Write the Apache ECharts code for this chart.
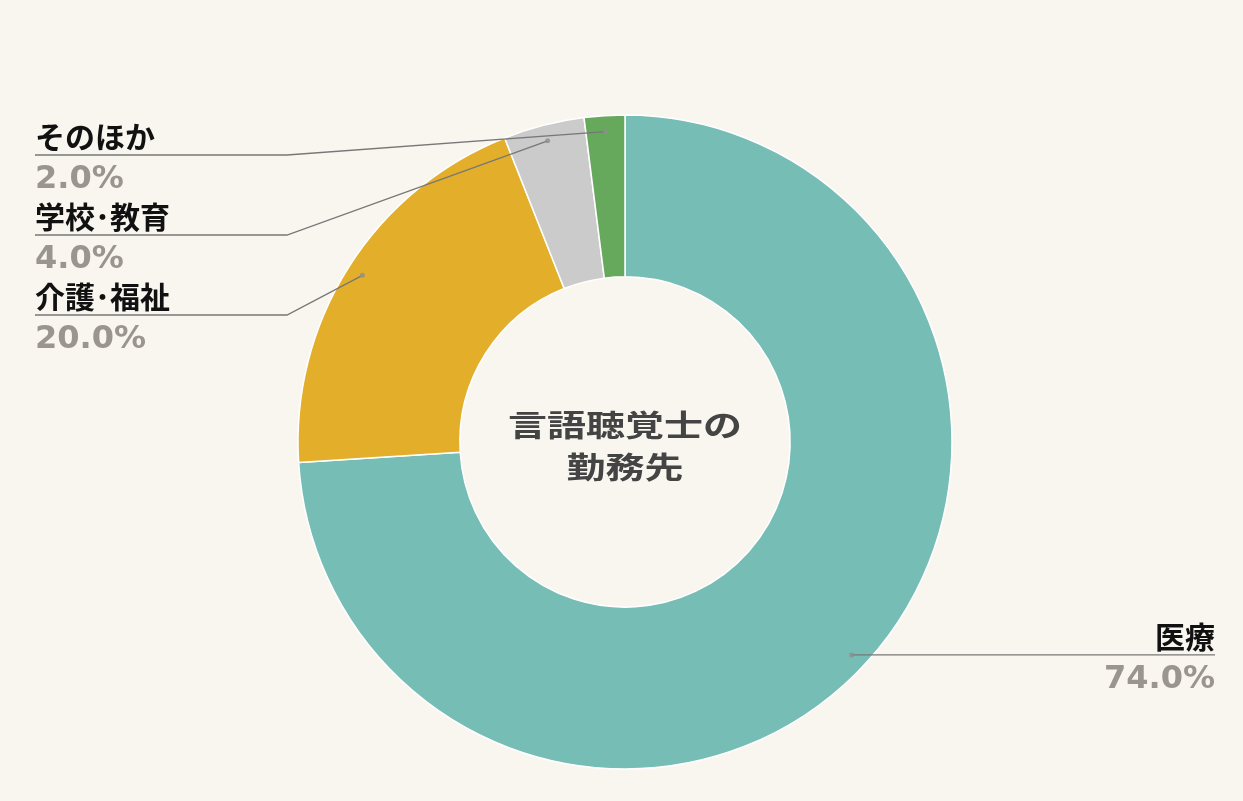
<!DOCTYPE html>
<html>
<head>
<meta charset="utf-8">
<script src="https://cdn.jsdelivr.net/npm/echarts@6/dist/echarts.min.js"></script>
<style>
  html, body { margin: 0; padding: 0; background: #f9f6f0; }
  #main { width: 1243px; height: 801px; }
</style>
</head>
<body>
<div id="main"></div>
<script>
var names = ['医療', '介護･福祉', '学校･教育', 'そのほか'];
var values = [74, 20, 4, 2];
var colors = ['#76bdb6', '#e3af2a', '#cbcbcb', '#66a85c'];
var centerTitle = '言語聴覚士の\n勤務先';

var myChart = echarts.init(document.getElementById('main'));

// pie box inside the canvas
var boxLeft = 7, boxTop = 115, boxRight = 0, boxBottom = 32;
var W = 1243, H = 801;
var edge = 28, labelH = 80;
var cx = boxLeft + (W - boxLeft - boxRight) / 2;
var cy = boxTop + (H - boxTop - boxBottom) / 2;
var outerR = (H - boxTop - boxBottom) / 2;
var dotR = outerR - 16;

var pieData = names.map(function (n, i) {
  return { name: n, value: values[i], itemStyle: { color: colors[i] } };
});

// mid angle of each slice (share of the circle, clockwise from top)
var total = values.reduce(function (a, b) { return a + b; }, 0);
var acc = 0;
var mids = values.map(function (v) {
  var mid = (acc + v / 2) / total;
  acc += v;
  return mid;
});
var dots = mids.map(function (m) { return [dotR, m * 100]; });

// label anchors: start at the dot, stack labels downward so they don't collide
var anchors = mids.map(function (m) {
  var a = m * Math.PI * 2;
  return { px: cx + Math.sin(a) * dotR, py: cy - Math.cos(a) * dotR, left: Math.sin(a) < 0 };
});
[true, false].forEach(function (side) {
  var idx = anchors.map(function (a, i) { return i; })
    .filter(function (i) { return anchors[i].left === side; })
    .sort(function (i, j) { return anchors[i].py - anchors[j].py; });
  var minY = boxTop + labelH / 2;
  idx.forEach(function (i) {
    anchors[i].ly = Math.max(anchors[i].py, minY);
    minY = anchors[i].ly + labelH;
  });
});

var option = {
  backgroundColor: '#f9f6f0',
  graphic: [{
    type: 'text',
    x: cx,
    y: cy + 4,
    scaleX: 1.3,
    z: 10,
    style: {
      text: centerTitle,
      fontFamily: 'Noto Sans CJK JP',
      fontSize: 30,
      fontWeight: 'bold',
      fill: '#444444',
      lineHeight: 42,
      align: 'center',
      verticalAlign: 'middle'
    }
  }],
  polar: {
    center: [cx, cy],
    radius: outerR
  },
  angleAxis: {
    type: 'value',
    min: 0,
    max: 100,
    startAngle: 90,
    clockwise: true,
    show: false
  },
  radiusAxis: {
    type: 'value',
    min: 0,
    max: outerR,
    show: false
  },
  series: [{
    type: 'pie',
    left: boxLeft,
    top: boxTop,
    right: boxRight,
    bottom: boxBottom,
    radius: ['50.5%', '100%'],
    startAngle: 90,
    clockwise: true,
    itemStyle: {
      borderColor: '#ffffff',
      borderWidth: 1.5
    },
    label: { show: false },
    labelLine: { show: false },
    data: pieData,
    z: 2
  }, {
    // transparent copy that carries labels and leader lines above the ring
    type: 'pie',
    left: boxLeft,
    top: boxTop,
    right: boxRight,
    bottom: boxBottom,
    radius: ['50.5%', '100%'],
    startAngle: 90,
    clockwise: true,
    silent: true,
    avoidLabelOverlap: false,
    itemStyle: { color: 'rgba(0,0,0,0)', borderWidth: 0 },
    emphasis: { disabled: true },
    label: {
      position: 'outside',
      alignTo: 'edge',
      edgeDistance: edge,
      formatter: function (p) {
        return '{name|' + p.name + '}\n{val|' + p.percent.toFixed(1) + '%}';
      },
      rich: {
        name: {
          fontFamily: 'Noto Sans CJK JP',
          fontSize: 30,
          fontWeight: 'bold',
          color: '#111111',
          lineHeight: 42
        },
        val: {
          fontFamily: 'DejaVu Sans',
          fontSize: 32,
          fontWeight: 'bold',
          color: '#9a958e',
          lineHeight: 44
        }
      }
    },
    labelLine: {
      length: 11,
      length2: 10,
      lineStyle: { color: '#777777', width: 1.3 }
    },
    labelLayout: function (params) {
      var a = anchors[params.dataIndex];
      var x = a.left ? boxLeft + edge : W - edge;
      var elbowX = a.left ? cx - outerR - 11 : cx + outerR + 11;
      return {
        x: x,
        y: a.ly + 4,
        align: a.left ? 'left' : 'right',
        verticalAlign: 'middle',
        labelLinePoints: [[a.px, a.py], [elbowX, a.ly], [x, a.ly]]
      };
    },
    data: pieData.map(function (d) { return { name: d.name, value: d.value }; }),
    z: 4
  }, {
    type: 'scatter',
    coordinateSystem: 'polar',
    symbol: 'circle',
    symbolSize: 5,
    itemStyle: { color: '#8e8e8e' },
    silent: true,
    data: dots,
    z: 5
  }]
};
myChart.setOption(option);
</script>
</body>
</html>
